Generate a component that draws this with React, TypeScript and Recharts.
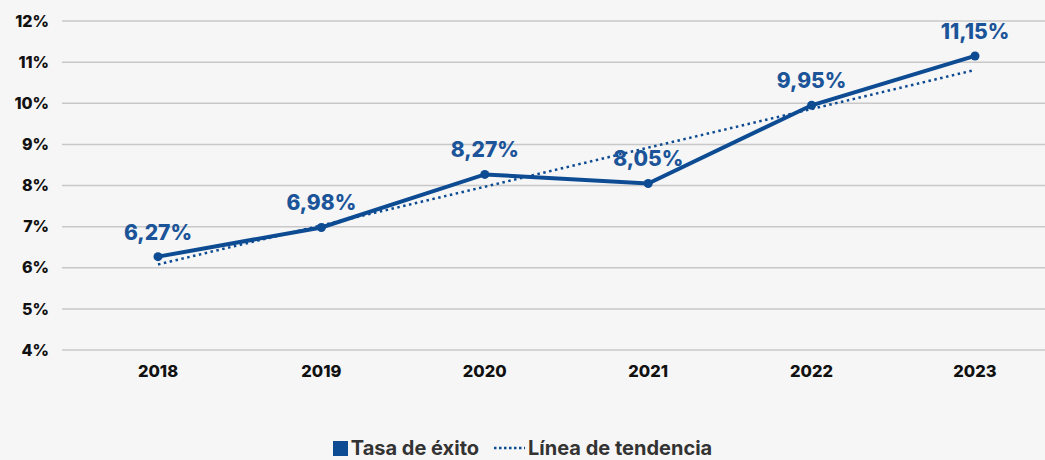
import { LineChart, Line, XAxis, YAxis, CartesianGrid, Legend, LabelList } from 'recharts';

const years = ['2018', '2019', '2020', '2021', '2022', '2023'];
const successRate = [6.27, 6.98, 8.27, 8.05, 9.95, 11.15];
// trend values
const trendLine = [6.08, 7.03, 7.97, 8.92, 9.86, 10.81];
const yTicks = [4, 5, 6, 7, 8, 9, 10, 11, 12];

const data = years.map((year, i) => ({ year, rate: successRate[i], trend: trendLine[i] }));

const BLUE = '#0d4b93';
const FONT = 'Inter, "Noto Sans", sans-serif';

const fmtPct = (v: number) => `${v.toFixed(2).replace('.', ',')}%`;

function LegendContent() {
  return (
    <div style={{
      display: 'flex',
      justifyContent: 'center',
      alignItems: 'center',
      height: 40,
      paddingTop: 16,
      boxSizing: 'border-box',
      fontFamily: FONT,
      fontSize: 20,
      fontWeight: 700,
      color: '#333',
    }}>
      <span style={{ display: 'inline-block', width: 15, height: 15, background: BLUE, marginRight: 3 }} />
      <span style={{ marginRight: 14, marginLeft: 0 }}>Tasa de éxito</span>
      <svg width={33} height={10} style={{ marginRight: 2 }}>
        <line x1={1} y1={5} x2={32} y2={5} stroke={BLUE} strokeWidth={2.5} strokeDasharray="2.5 2.5" />
      </svg>
      <span>Línea de tendencia</span>
    </div>
  );
}

export default function App() {
  return (
    <div style={{ position: 'absolute', left: 0, top: 0, width: 1045, height: 460, background: '#f6f6f6' }}>
      <LineChart width={1045} height={460} data={data} margin={{ top: 21, right: 0, bottom: 0, left: 0 }}>
        <CartesianGrid vertical={false} stroke="#c8c8c8" strokeWidth={1.5} />
        <XAxis
          dataKey="year"
          axisLine={false}
          tickLine={false}
          tickSize={0}
          tickMargin={15}
          height={70}
          padding={{ left: 96, right: 70 }}
          tick={{ fontSize: 16.5, fontWeight: 800, fill: '#111', fontFamily: FONT }}
        />
        <YAxis
          domain={[4, 12]}
          ticks={yTicks}
          width={62}
          axisLine={false}
          tickLine={false}
          tickSize={0}
          tickMargin={13}
          tickFormatter={(v: number) => `${v}%`}
          tick={{ fontSize: 16, fontWeight: 800, fill: '#111', fontFamily: FONT }}
        />
        <Legend verticalAlign="bottom" height={40} content={() => <LegendContent />} />
        <Line
          type="linear"
          dataKey="trend"
          stroke={BLUE}
          strokeWidth={2.5}
          strokeDasharray="2.5 3.5"
          dot={false}
          isAnimationActive={false}
        />
        <Line
          type="linear"
          dataKey="rate"
          stroke={BLUE}
          strokeWidth={4}
          dot={{ r: 4.5, fill: BLUE, stroke: BLUE, strokeWidth: 0 }}
          isAnimationActive={false}
        >
          <LabelList
            dataKey="rate"
            position="top"
            offset={17}
            formatter={(v: number) => fmtPct(v)}
            style={{ fontSize: 21, fontWeight: 800, fill: '#1b5498', fontFamily: FONT }}
          />
        </Line>
      </LineChart>
    </div>
  );
}
